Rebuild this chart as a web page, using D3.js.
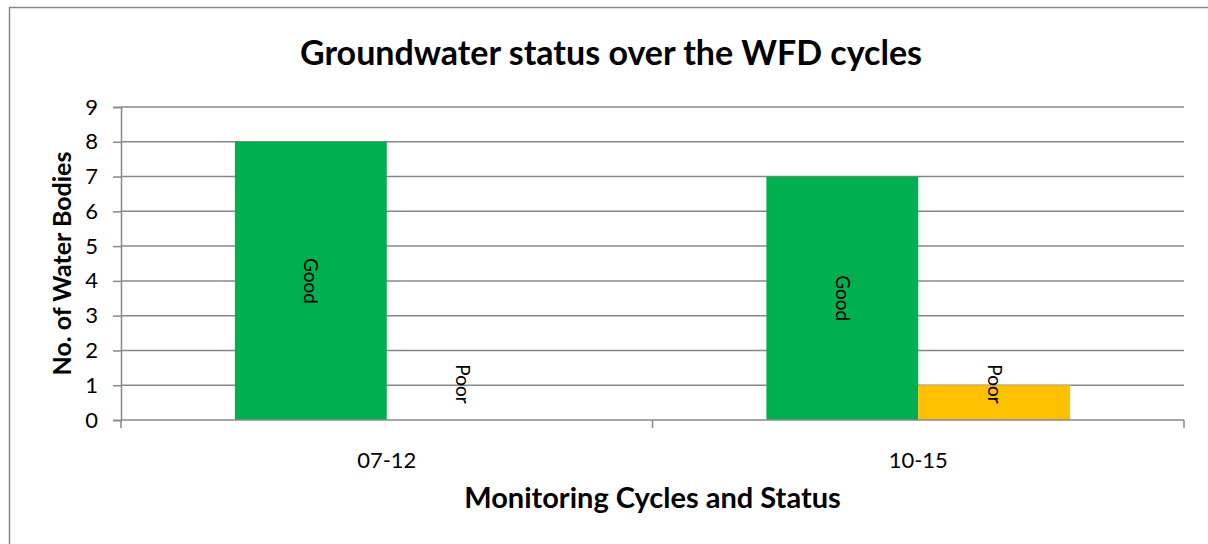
<!DOCTYPE html>
<meta charset="utf-8">
<head>
	<style type="text/css">
		body { margin: 0; background: #fff; }
		text { font-family: Lato, "Open Sans", sans-serif; fill: #000; }
		.title { font-weight: bold; font-size: 34px; }
		.axis-label { font-weight: bold; font-size: 29px; }
		.bar-label { font-size: 19px; }
	</style>
	<title>Groundwater status over the WFD cycles</title>
</head>
<script src="https://cdn.jsdelivr.net/npm/d3@7"></script>
<svg width="1208" height="544" id="svg1"></svg>

<script>
	// data
	const cycles = ["07-12", "10-15"];
	const statuses = ["Good", "Poor"];
	const goodCounts = [8, 7];
	const poorCounts = [0, 1];
	const statusColors = ["#00b050", "#ffc000"];
	const yTicks = [0, 1, 2, 3, 4, 5, 6, 7, 8, 9];

	const svg1 = d3.select('#svg1');
	const width = +svg1.attr('width');
	const height = +svg1.attr('height');

	const margin = { top: 107, right: 24, bottom: 124, left: 121 };
	const innerWidth = width - margin.left - margin.right;
	const innerHeight = height - margin.top - margin.bottom;

	// chart frame (runs off the right and bottom edge in the original)
	svg1.append('rect')
		.attr('x', 9.5)
		.attr('y', 7.5)
		.attr('width', 1230)
		.attr('height', 560)
		.attr('fill', 'none')
		.attr('stroke', '#888')
		.attr('stroke-width', 1.5);

	const data = [];
	cycles.forEach((c, i) => {
		data.push({ cycle: c, status: statuses[0], count: goodCounts[i] });
		data.push({ cycle: c, status: statuses[1], count: poorCounts[i] });
	});

	const xScale = d3.scaleBand()
		.domain(cycles)
		.range([0, innerWidth]);

	// gap width 150% -> bars take 2/3.5 of each band
	const xInner = d3.scaleBand()
		.domain(statuses)
		.range([0, xScale.bandwidth() * 2 / 3.5]);
	const groupOffset = (xScale.bandwidth() - xInner.range()[1]) / 2;

	const yScale = d3.scaleLinear()
		.domain([0, 9])
		.range([innerHeight, 0]);

	const colorScale = d3.scaleOrdinal()
		.domain(statuses)
		.range(statusColors);

	const g1 = svg1.append('g')
		.attr('transform', `translate(${margin.left},${margin.top})`);

	// gridlines
	g1.append('g')
		.selectAll('line')
		.data(yTicks.slice(1))
		.enter().append('line')
			.attr('x1', 0)
			.attr('x2', innerWidth)
			.attr('y1', d => yScale(d))
			.attr('y2', d => yScale(d))
			.attr('stroke', '#888')
			.attr('stroke-width', 1.5);

	// bars
	g1.selectAll('.bar')
		.data(data)
		.enter().append('rect')
			.attr('class', 'bar')
			.attr('x', d => xScale(d.cycle) + groupOffset + xInner(d.status))
			.attr('y', d => yScale(d.count))
			.attr('width', xInner.bandwidth())
			.attr('height', d => innerHeight - yScale(d.count))
			.attr('fill', d => colorScale(d.status));

	// bar labels, rotated
	g1.selectAll('.bar-label')
		.data(data)
		.enter().append('text')
			.attr('class', 'bar-label')
			.attr('text-anchor', 'middle')
			.attr('dy', '0.35em')
			.attr('transform', d => {
				const cx = xScale(d.cycle) + groupOffset + xInner(d.status) + xInner.bandwidth() / 2;
				const cy = Math.min(yScale(d.count / 2), innerHeight - 36);
				return `translate(${cx},${cy})rotate(90)`;
			})
			.text(d => d.status);

	// y axis
	const yAxis = d3.axisLeft(yScale)
		.tickValues(yTicks)
		.tickSize(8)
		.tickPadding(15)
		.tickFormat(d3.format('d'));

	const yAxisG = g1.append('g').call(yAxis);
	yAxisG.select('.domain').attr('stroke', '#888').attr('stroke-width', 1.5);
	yAxisG.selectAll('.tick line').attr('stroke', '#888').attr('stroke-width', 1.5);
	yAxisG.selectAll('.tick text')
		.attr('font-family', null)
		.attr('font-size', null)
		.style('font-size', '22px');

	// x axis: ticks at band edges
	const xAxisG = g1.append('g')
		.attr('transform', `translate(0,${innerHeight})`);
	xAxisG.append('line')
		.attr('x1', 0).attr('x2', innerWidth)
		.attr('stroke', '#888').attr('stroke-width', 1.5);
	const edges = cycles.map(c => xScale(c)).concat([innerWidth]);
	xAxisG.selectAll('.edge')
		.data(edges)
		.enter().append('line')
			.attr('class', 'edge')
			.attr('x1', d => d).attr('x2', d => d)
			.attr('y1', 0).attr('y2', 8)
			.attr('stroke', '#888').attr('stroke-width', 1.5);
	xAxisG.selectAll('.xlabel')
		.data(cycles)
		.enter().append('text')
			.attr('class', 'xlabel')
			.attr('x', d => xScale(d) + xScale.bandwidth() / 2)
			.attr('y', 48)
			.attr('text-anchor', 'middle')
			.style('font-size', '22px')
			.text(d => d);

	// titles
	svg1.append('text')
		.attr('class', 'title')
		.attr('x', 611)
		.attr('y', 65)
		.attr('text-anchor', 'middle')
		.text('Groundwater status over the WFD cycles');

	svg1.append('text')
		.attr('class', 'axis-label')
		.attr('x', margin.left + innerWidth / 2)
		.attr('y', 508)
		.attr('text-anchor', 'middle')
		.text('Monitoring Cycles and Status');

	svg1.append('text')
		.attr('class', 'axis-label')
		.attr('transform', `translate(71,${margin.top + innerHeight / 2})rotate(-90)`)
		.attr('text-anchor', 'middle')
		.style('font-size', '25px')
		.text('No. of Water Bodies');
</script>
